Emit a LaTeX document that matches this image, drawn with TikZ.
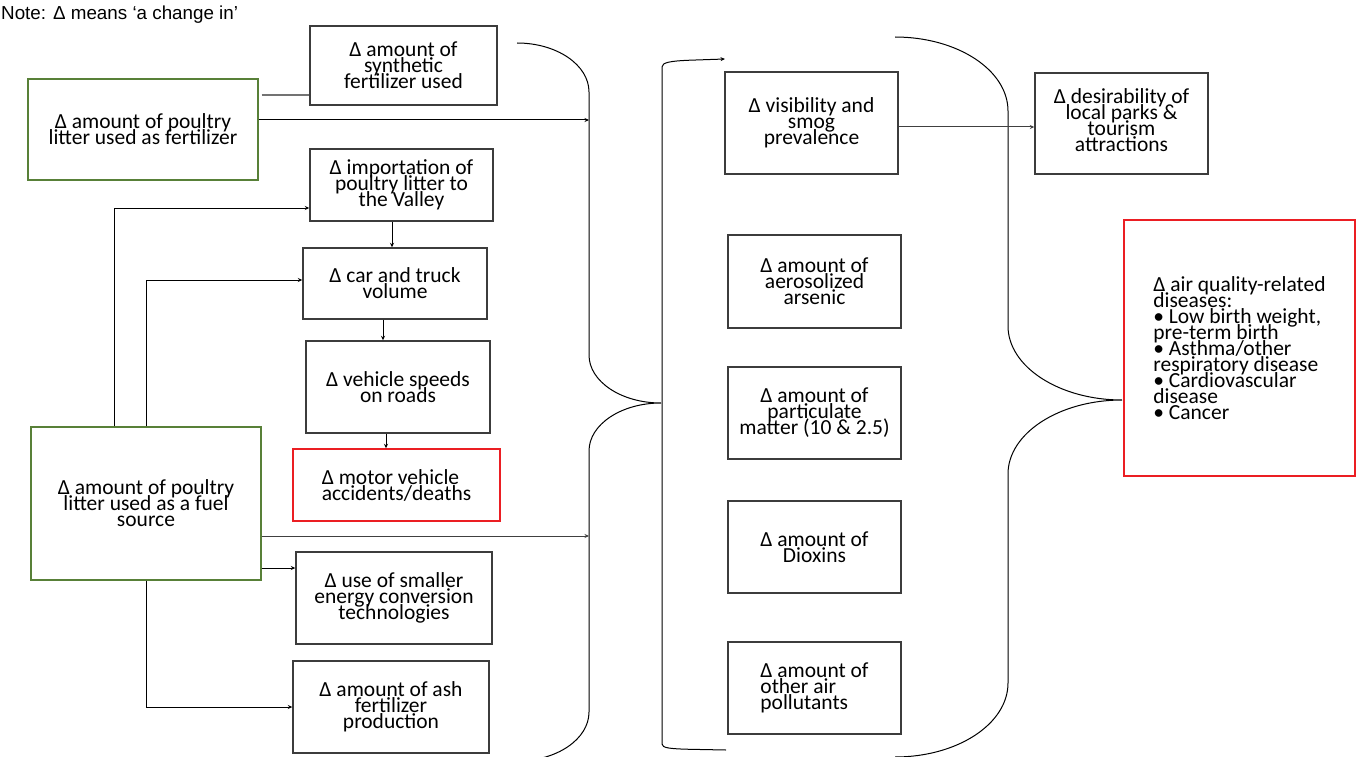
\documentclass[tikz,border=0pt]{standalone}
\usepackage{fontspec}
\setmainfont{Carlito}
\newfontfamily\notefont{Liberation Sans}
\usetikzlibrary{arrows.meta}
\definecolor{boxgreen}{RGB}{88,128,56}
\definecolor{boxred}{RGB}{235,30,35}
\definecolor{edgegray}{RGB}{60,60,60}
\newcommand\diagfont{\fontsize{21.5}{16}\selectfont\lineskiplimit=-100pt\relax}
\begin{document}
\begin{tikzpicture}[x=1pt,y=-1pt,
  box/.style={draw=edgegray, line width=1.4pt, inner sep=2pt, align=center, font=\diagfont},
  greenbox/.style={box, draw=boxgreen},
  redbox/.style={box, draw=boxred},
  sz/.style 2 args={minimum width=#1pt, minimum height=#2pt},
  link/.style={line width=1pt, draw=black},
  graylink/.style={line width=1.4pt, draw=black!55},
  arr/.style={link, -{Stealth[length=4.5pt,width=4pt]}},
  brace/.style={line width=1pt, draw=black},
]
\useasboundingbox (0,0) rectangle (1357,757);
\clip (0,0) rectangle (1357,757);

% legend
\node[anchor=base west, inner sep=0, font=\notefont\fontsize{18.8}{22}\selectfont] (note) at (1,20) {Note: Δ means ‘a change in’};

% left column: sources and transport chain
\node[box, sz={187}{79}] (syn) at (403.5,65.5) {Δ amount of\\synthetic\\fertilizer used};
\node[greenbox, sz={230}{101}] (fert) at (143,129.5) {Δ amount of poultry\\litter used as fertilizer};
\node[box, sz={183}{72}] (imp) at (401.5,185) {Δ importation of\\poultry litter to\\the Valley};
\node[box, sz={184}{71}] (car) at (395,283.5) {Δ car and truck\\volume};
\node[box, sz={184}{92}] (spd) at (398,387) {Δ vehicle speeds\\on roads};
\node[redbox, sz={207}{72}, align=left] (mot) at (396.5,485) {Δ motor vehicle\\accidents/deaths};
\node[greenbox, sz={230}{153}] (fuel) at (146,503.5) {Δ amount of poultry\\litter used as a fuel\\source};
\node[box, sz={196}{92}] (sml) at (394,598) {Δ use of smaller\\energy conversion\\technologies};
\node[box, sz={196}{92}] (ash) at (391,707) {Δ amount of ash\\fertilizer\\production};

% middle column: emissions
\node[box, sz={173}{102}] (vis) at (811.5,123) {Δ visibility and\\smog\\prevalence};
\node[box, sz={173}{93}] (aer) at (814.5,281.5) {Δ amount of\\aerosolized\\arsenic};
\node[box, sz={173}{92}] (pm) at (814.5,413) {Δ amount of\\particulate\\matter (10 \& 2.5)};
\node[box, sz={173}{92}] (dio) at (814.5,547) {Δ amount of\\Dioxins};
\node[box, sz={173}{92}, align=left] (oth) at (814.5,688) {Δ amount of\\other air\\pollutants};

% right column: outcomes
\node[box, sz={173}{101}, text depth=6pt] (des) at (1121.5,123.5) {Δ desirability of\\local parks \&\\tourism\\attractions};
\node[redbox, sz={231}{256}, align=left] (aq) at (1239.5,348) {Δ air quality-related\\diseases:\\• Low birth weight,\\pre-term birth\\• Asthma/other\\respiratory disease\\• Cardiovascular\\disease\\• Cancer};

% grouping braces
\draw[brace] (517,43) .. controls (556.8,43) and (589,64.9) .. (589,92)
  -- (589,355) .. controls (589,381.5) and (621.2,403) .. (661,403)
  .. controls (621.2,403) and (589,424.5) .. (589,451)
  -- (589,712) .. controls (589,739.1) and (556.8,761) .. (517,761);
\draw[brace, -{Stealth[length=4.5pt,width=4pt]}] (726,750) -- (690,749.3)
  .. controls (670,748.8) and (662,748) .. (662,744)
  -- (662,67) .. controls (662,62.5) and (670,61) .. (690,60.2) -- (725,59);
\draw[brace] (895,37) .. controls (957.4,37) and (1008,70.1) .. (1008,111)
  -- (1008,326) .. controls (1008,366.9) and (1059.6,400) .. (1122,400)
  .. controls (1059.6,400) and (1008,433.1) .. (1008,474)
  -- (1008,683) .. controls (1008,723.9) and (957.4,757) .. (895,757);

\coordinate (b1) at (589,120);
\coordinate (b2) at (589,536);

% connectors
\draw[graylink] ([xshift=3pt,yshift=34.5pt]fert.east) coordinate (f1) -- (syn.west |- f1);
\draw[arr] ([yshift=9.5pt]fert.east) -- (b1);
\draw[arr] ([xshift=-32pt]fuel.north) |- ([yshift=-23pt]imp.west);
\draw[arr] (fuel.north) |- ([yshift=3.5pt]car.west);
\draw[arr] ([xshift=-9.5pt]imp.south) coordinate (t1) -- (t1 |- car.north);
\draw[arr] ([xshift=-12pt]car.south) coordinate (t2) -- (t2 |- spd.north);
\draw[arr] ([xshift=-12pt]spd.south) coordinate (t3) -- (t3 |- mot.north);
\draw[arr, draw=black!75] ([yshift=-32.5pt]fuel.east) -- (b2);
\draw[arr] ([yshift=-64.5pt]fuel.east) coordinate (t4) -- (t4 -| sml.west);
\draw[arr] (fuel.south) |- (ash.west);
\draw[arr, draw=black!75] ([yshift=-4pt]vis.east) coordinate (t5) -- (t5 -| des.west);
\end{tikzpicture}
\end{document}
